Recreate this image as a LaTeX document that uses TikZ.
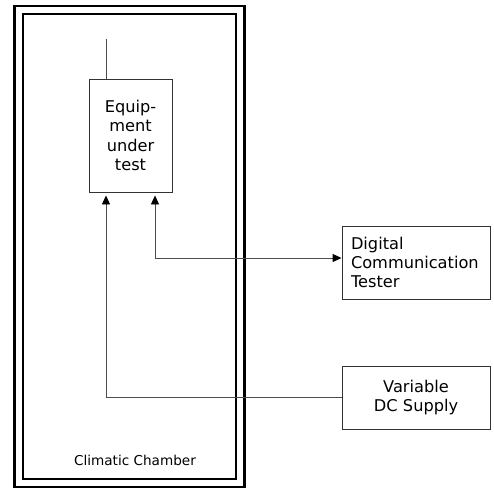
\documentclass[tikz,border=0pt]{standalone}
\usepackage{fontspec}
\setmainfont{DejaVu Sans}
\usetikzlibrary{arrows.meta,positioning}

\begin{document}
\begin{tikzpicture}[x=1pt, y=-1pt,
  box/.style={draw=black!80, line width=0.9pt, inner sep=0pt,
    font=\fontsize{16.2}{19.2}\selectfont},
  chamber/.style={draw=black, line width=2.3pt},
  link/.style={draw=black!70, line width=0.9pt},
  head/.tip={Triangle[length=9pt, width=8pt, fill=black, color=black]}]
\useasboundingbox (0,0) rectangle (494,495);

% climatic chamber: double wall
\draw[chamber] (14.5,6) rectangle (244.5,487);
\draw[chamber] (23,14) rectangle (236,479);
\node[font=\fontsize{13.6}{16}\selectfont] (chamberlabel) at (135,460) {Climatic Chamber};

% equipment under test with antenna
\node[box, minimum width=83pt, minimum height=113pt, text width=83pt, align=center]
  (eut) at (130.5,135.5) {Equip-\\ment\\under\\test};
\coordinate (antenna) at (106,39);
\draw[link] (antenna) -- (antenna |- eut.north);

% instruments outside the chamber
\node[box, minimum width=148pt, minimum height=73pt, text width=130pt, align=left]
  (dct) at (416,262.5) {Digital\\Communication\\Tester};
\node[box, minimum width=148pt, minimum height=63pt, text width=130pt, align=center]
  (vdc) at (416,397.5) {Variable\\DC Supply};

% connections
\draw[link, {head}-{head}, shorten >=3pt]
  ([yshift=4.5pt]dct.west) -| ([xshift=24.5pt]eut.south);
\draw[link, -{head}, shorten >=3pt]
  (vdc.west) -| ([xshift=-24.5pt]eut.south);
\end{tikzpicture}
\end{document}
